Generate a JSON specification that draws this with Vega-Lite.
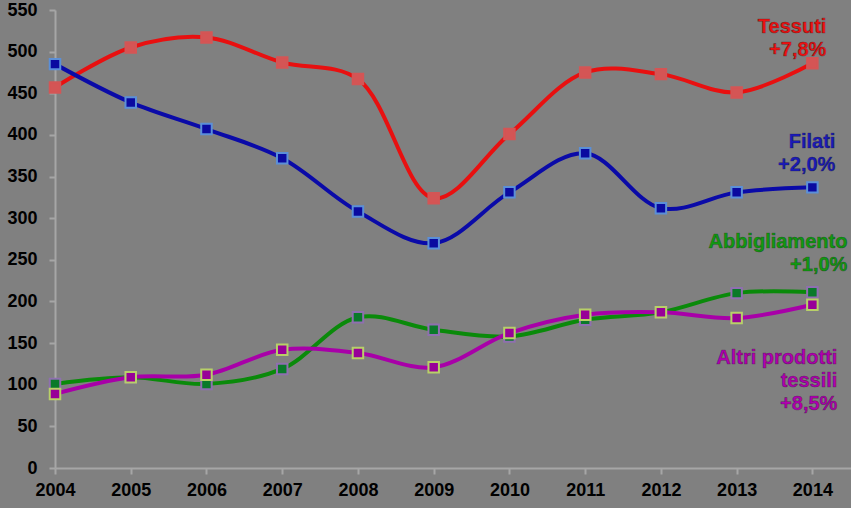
{
  "$schema": "https://vega.github.io/schema/vega-lite/v6.json",
  "width": 796,
  "height": 458,
  "autosize": {"type": "none"},
  "padding": {"left": 55, "top": 10, "right": 0, "bottom": 40},
  "background": "#808080",
  "config": {
    "view": {"stroke": null},
    "axis": {
      "grid": false,
      "domainColor": "#a6a6a6",
      "domainWidth": 2,
      "tickColor": "#a6a6a6",
      "tickWidth": 2,
      "labelColor": "#000000",
      "labelFont": "Liberation Sans",
      "labelFontWeight": "bold",
      "labelFontSize": 18,
      "title": null
    }
  },
  "data": {
    "values": [
      {"year": 2004, "serie": "Tessuti", "value": 457},
      {"year": 2005, "serie": "Tessuti", "value": 505},
      {"year": 2006, "serie": "Tessuti", "value": 517},
      {"year": 2007, "serie": "Tessuti", "value": 487},
      {"year": 2008, "serie": "Tessuti", "value": 467},
      {"year": 2009, "serie": "Tessuti", "value": 324},
      {"year": 2010, "serie": "Tessuti", "value": 401},
      {"year": 2011, "serie": "Tessuti", "value": 475},
      {"year": 2012, "serie": "Tessuti", "value": 473},
      {"year": 2013, "serie": "Tessuti", "value": 451},
      {"year": 2014, "serie": "Tessuti", "value": 486},
      {"year": 2004, "serie": "Filati", "value": 485},
      {"year": 2005, "serie": "Filati", "value": 439},
      {"year": 2006, "serie": "Filati", "value": 407},
      {"year": 2007, "serie": "Filati", "value": 372},
      {"year": 2008, "serie": "Filati", "value": 308},
      {"year": 2009, "serie": "Filati", "value": 270},
      {"year": 2010, "serie": "Filati", "value": 331},
      {"year": 2011, "serie": "Filati", "value": 378},
      {"year": 2012, "serie": "Filati", "value": 312},
      {"year": 2013, "serie": "Filati", "value": 331},
      {"year": 2014, "serie": "Filati", "value": 337},
      {"year": 2004, "serie": "Abbigliamento", "value": 101},
      {"year": 2005, "serie": "Abbigliamento", "value": 109},
      {"year": 2006, "serie": "Abbigliamento", "value": 101},
      {"year": 2007, "serie": "Abbigliamento", "value": 119},
      {"year": 2008, "serie": "Abbigliamento", "value": 181},
      {"year": 2009, "serie": "Abbigliamento", "value": 166},
      {"year": 2010, "serie": "Abbigliamento", "value": 158},
      {"year": 2011, "serie": "Abbigliamento", "value": 178},
      {"year": 2012, "serie": "Abbigliamento", "value": 187},
      {"year": 2013, "serie": "Abbigliamento", "value": 210},
      {"year": 2014, "serie": "Abbigliamento", "value": 211},
      {"year": 2004, "serie": "Altri prodotti tessili", "value": 89},
      {"year": 2005, "serie": "Altri prodotti tessili", "value": 109},
      {"year": 2006, "serie": "Altri prodotti tessili", "value": 112},
      {"year": 2007, "serie": "Altri prodotti tessili", "value": 142},
      {"year": 2008, "serie": "Altri prodotti tessili", "value": 138},
      {"year": 2009, "serie": "Altri prodotti tessili", "value": 121},
      {"year": 2010, "serie": "Altri prodotti tessili", "value": 162},
      {"year": 2011, "serie": "Altri prodotti tessili", "value": 184},
      {"year": 2012, "serie": "Altri prodotti tessili", "value": 187},
      {"year": 2013, "serie": "Altri prodotti tessili", "value": 180},
      {"year": 2014, "serie": "Altri prodotti tessili", "value": 196}
    ]
  },
  "encoding": {
    "x": {
      "field": "year", "type": "quantitative",
      "scale": {"domain": [2004, 2014.51], "nice": false, "zero": false},
      "axis": {"values": [2004, 2005, 2006, 2007, 2008, 2009, 2010, 2011, 2012, 2013, 2014], "format": "d", "labelPadding": 7, "tickSize": 6, "domain": true, "labelFlush": false}
    },
    "y": {
      "field": "value", "type": "quantitative",
      "scale": {"domain": [0, 550], "nice": false},
      "axis": {"values": [0, 50, 100, 150, 200, 250, 300, 350, 400, 450, 500, 550], "labelPadding": 12, "tickSize": 6}
    }
  },
  "layer": [
    {
      "mark": {"type": "line", "interpolate": "catmull-rom", "strokeWidth": 4},
      "encoding": {
        "color": {
          "field": "serie", "type": "nominal", "legend": null,
          "scale": {"domain": ["Tessuti", "Filati", "Abbigliamento", "Altri prodotti tessili"], "range": ["#e81010", "#0a0aa8", "#0a8a0a", "#a800a8"]}
        }
      }
    },
    {
      "mark": {"type": "point", "shape": "square", "filled": true, "size": 110, "strokeWidth": 2, "opacity": 1},
      "encoding": {
        "fill": {
          "field": "serie", "type": "nominal", "legend": null,
          "scale": {"domain": ["Tessuti", "Filati", "Abbigliamento", "Altri prodotti tessili"], "range": ["#d45555", "#0a0aa0", "#0a7a2a", "#980098"]}
        },
        "stroke": {
          "field": "serie", "type": "nominal", "legend": null,
          "scale": {"domain": ["Tessuti", "Filati", "Abbigliamento", "Altri prodotti tessili"], "range": ["#d45555", "#5b8fd8", "#8f6fb0", "#b8d068"]}
        }
      }
    },
    {
      "transform": [{"filter": "datum.serie == 'Tessuti' && datum.year == 2014"}],
      "mark": {"type": "text", "align": "right", "baseline": "top", "dx": 14, "dy": -46, "font": "Liberation Sans", "fontWeight": "bold", "fontSize": 20, "lineHeight": 23, "color": "#ee1111", "stroke": "#3a1010", "strokeWidth": 0.6, "strokeOpacity": 0.6, "text": ["Tessuti", "+7,8%"]}
    },
    {
      "transform": [{"filter": "datum.serie == 'Filati' && datum.year == 2014"}],
      "mark": {"type": "text", "align": "right", "baseline": "top", "dx": 23, "dy": -55, "font": "Liberation Sans", "fontWeight": "bold", "fontSize": 20, "lineHeight": 23, "color": "#1a1ab8", "stroke": "#101040", "strokeWidth": 0.6, "strokeOpacity": 0.6, "text": ["Filati", "+2,0%"]}
    },
    {
      "transform": [{"filter": "datum.serie == 'Abbigliamento' && datum.year == 2014"}],
      "mark": {"type": "text", "align": "right", "baseline": "top", "dx": 35, "dy": -60, "font": "Liberation Sans", "fontWeight": "bold", "fontSize": 20, "lineHeight": 23, "color": "#119911", "stroke": "#103a10", "strokeWidth": 0.6, "strokeOpacity": 0.6, "text": ["Abbigliamento", "+1,0%"]}
    },
    {
      "transform": [{"filter": "datum.serie == 'Altri prodotti tessili' && datum.year == 2014"}],
      "mark": {"type": "text", "align": "right", "baseline": "top", "dx": 25, "dy": 43, "font": "Liberation Sans", "fontWeight": "bold", "fontSize": 20, "lineHeight": 23, "color": "#b000b0", "stroke": "#3a103a", "strokeWidth": 0.6, "strokeOpacity": 0.6, "text": ["Altri prodotti", "tessili", "+8,5%"]}
    }
  ],
  "resolve": {"scale": {"color": "independent", "fill": "independent", "stroke": "independent"}}
}
